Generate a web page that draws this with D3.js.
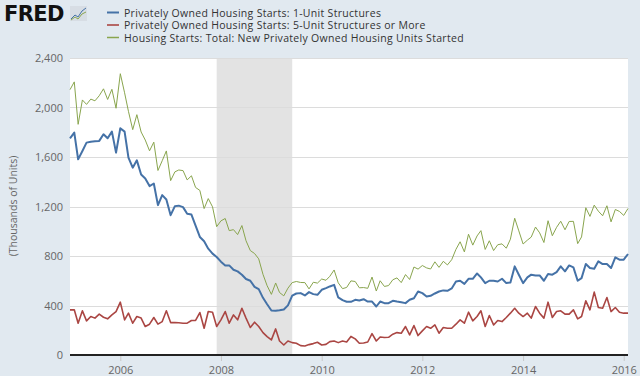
<!DOCTYPE html>
<html>
<head>
<meta charset="utf-8">
<script src="https://cdn.jsdelivr.net/npm/d3@7"></script>
<style>
  body { margin: 0; background: #e1e9f0; }
  svg { display: block; font-family: "Open Sans", sans-serif; }
</style>
</head>
<body>
<svg id="chart" width="640" height="376"></svg>
<script>
// monthly, Jan 2005 .. Feb 2016 (thousands of units, SAAR)
const firstMonth = new Date(2005, 0, 1);
const lastMonth = new Date(2016, 1, 1);

const oneUnit = [
    1750, 1797, 1581, 1649, 1716, 1724, 1727, 1730, 1784, 1751, 1805, 1635,
    1832, 1805, 1595, 1514, 1573, 1459, 1427, 1365, 1386, 1211, 1292, 1257,
    1130, 1203, 1207, 1195, 1141, 1135, 1046, 954, 919, 859, 819, 792,
    754, 724, 724, 689, 676, 649, 614, 600, 551, 532, 462, 410,
    360, 357, 361, 368, 401, 480, 497, 500, 481, 508, 492, 486,
    527, 540, 554, 567, 465, 443, 430, 430, 446, 440, 451, 432,
    432, 392, 432, 419, 419, 438, 432, 427, 419, 446, 459, 513,
    500, 473, 478, 497, 513, 522, 519, 538, 594, 600, 575, 616,
    616, 659, 627, 581, 600, 600, 594, 616, 581, 586, 716, 649,
    581, 627, 649, 643, 643, 600, 654, 649, 670, 716, 676, 724,
    708, 600, 621, 735, 703, 697, 757, 735, 735, 703, 789, 770,
    770, 816
];

const fivePlus = [
    365, 365, 257, 357, 276, 311, 298, 330, 305, 292, 324, 351,
    427, 284, 338, 257, 311, 298, 230, 249, 303, 249, 270, 357,
    262, 262, 260, 257, 257, 279, 279, 343, 216, 351, 346, 230,
    284, 351, 257, 324, 284, 378, 298, 222, 265, 230, 181, 149,
    122, 211, 113, 81, 113, 100, 95, 76, 73, 84, 92, 103,
    81, 86, 108, 113, 100, 113, 105, 150, 130, 95, 97, 105,
    173, 113, 146, 141, 143, 168, 181, 176, 230, 162, 238, 157,
    195, 230, 216, 243, 176, 222, 216, 216, 249, 284, 257, 346,
    276, 311, 357, 230, 319, 243, 279, 270, 303, 338, 378, 338,
    311, 338, 298, 392, 338, 298, 427, 303, 351, 357, 330, 330,
    365, 292, 311, 438, 365, 508, 384, 378, 465, 351, 384, 346,
    338, 338
];

const total = [
    2144, 2207, 1864, 2061, 2025, 2068, 2054, 2095, 2151, 2065, 2147, 1994,
    2273, 2119, 1969, 1821, 1942, 1802, 1737, 1650, 1720, 1491, 1570, 1649,
    1409, 1480, 1495, 1490, 1415, 1448, 1354, 1330, 1183, 1264, 1197, 1037,
    1084, 1103, 1005, 1013, 973, 1046, 923, 844, 820, 777, 652, 560,
    490, 582, 505, 478, 540, 585, 594, 586, 585, 534, 588, 581,
    614, 604, 636, 687, 583, 536, 546, 599, 594, 543, 545, 539,
    630, 517, 600, 554, 561, 608, 623, 585, 650, 610, 711, 694,
    723, 704, 695, 753, 708, 757, 728, 770, 854, 915, 833, 976,
    888, 962, 1005, 853, 923, 844, 891, 898, 863, 936, 1105, 1003,
    897, 928, 953, 1034, 987, 909, 1085, 964, 1032, 1081, 1012, 1079,
    1080, 900, 954, 1190, 1120, 1211, 1162, 1125, 1206, 1076, 1176, 1160,
    1128, 1184
];

const seriesNames = [
    "Privately Owned Housing Starts: 1-Unit Structures",
    "Privately Owned Housing Starts: 5-Unit Structures or More",
    "Housing Starts: Total: New Privately Owned Housing Units Started"
];
const seriesColors = ["#4572a7", "#aa4643", "#89a54e"];
const seriesWidths = [2, 1.6, 1];

const yTicks = [0, 400, 800, 1200, 1600, 2000, 2400];
const xTickYears = [2006, 2008, 2010, 2012, 2014, 2016];
const recession = [new Date(2007, 11, 1), new Date(2009, 5, 1)];

const svg = d3.select("#chart");
const plotLeft = 70, plotRight = 628, plotTop = 58, plotBottom = 355;

const months = d3.timeMonth.range(firstMonth, d3.timeMonth.offset(lastMonth, 1));

const x = d3.scaleTime()
    .domain([firstMonth, lastMonth])
    .range([plotLeft, plotRight]);
const y = d3.scaleLinear()
    .domain([0, 2400])
    .range([plotBottom, plotTop]);

// plot background
svg.append("rect")
    .attr("x", plotLeft).attr("y", plotTop)
    .attr("width", plotRight - plotLeft).attr("height", plotBottom - plotTop)
    .attr("fill", "#ffffff");

// recession band
svg.append("rect")
    .attr("x", x(recession[0])).attr("y", plotTop)
    .attr("width", x(recession[1]) - x(recession[0]))
    .attr("height", plotBottom - plotTop)
    .attr("fill", "#e3e3e3");

// gridlines
svg.append("g")
    .selectAll("line")
    .data(yTicks.filter(d => d > 0))
    .enter()
    .append("line")
    .attr("x1", plotLeft).attr("x2", plotRight)
    .attr("y1", d => Math.round(y(d)) + 0.5)
    .attr("y2", d => Math.round(y(d)) + 0.5)
    .attr("stroke", "#dcdcdc")
    .attr("stroke-width", 1);

// y labels
svg.append("g")
    .selectAll("text")
    .data(yTicks)
    .enter()
    .append("text")
    .attr("x", 63)
    .attr("y", d => y(d) + 4)
    .attr("text-anchor", "end")
    .attr("font-size", "11px")
    .attr("fill", "#666")
    .text(d => d3.format(",")(d));

svg.append("text")
    .attr("transform", "translate(17,206) rotate(-90)")
    .attr("text-anchor", "middle")
    .attr("font-size", "10.5px")
    .attr("fill", "#666")
    .text("(Thousands of Units)");

// x axis
const xAxis = d3.axisBottom(x)
    .tickValues(xTickYears.map(yr => new Date(yr, 0, 1)))
    .tickFormat(d3.timeFormat("%Y"))
    .tickSize(6)
    .tickSizeOuter(0);

const gx = svg.append("g")
    .attr("transform", `translate(0,${plotBottom})`)
    .call(xAxis);
gx.select(".domain").remove();
gx.selectAll(".tick line").attr("stroke", "#c8c8c8");
gx.selectAll(".tick text")
    .attr("font-family", "Open Sans, sans-serif")
    .attr("font-size", "11px")
    .attr("fill", "#666")
    .attr("dy", "0.9em");

// lines
const line = d3.line()
    .x((d, i) => x(months[i]))
    .y(d => y(d));

const allSeries = [total, fivePlus, oneUnit];
const order = [2, 1, 0];
allSeries.forEach((vals, k) => {
    const idx = order[k];
    svg.append("path")
        .datum(vals)
        .attr("d", line)
        .attr("fill", "none")
        .attr("stroke", seriesColors[idx])
        .attr("stroke-width", seriesWidths[idx])
        .attr("stroke-linejoin", "round");
});

// baseline
svg.append("line")
    .attr("x1", plotLeft).attr("x2", plotRight)
    .attr("y1", plotBottom).attr("y2", plotBottom)
    .attr("stroke", "#222")
    .attr("stroke-width", 2);

// FRED logo
svg.append("text")
    .attr("x", 4)
    .attr("y", 21)
    .attr("font-family", "DejaVu Sans, sans-serif")
    .attr("font-weight", "bold")
    .attr("font-size", "21px")
    .attr("letter-spacing", "-0.6px")
    .attr("fill", "#111")
    .text("FRED");

const icon = svg.append("g").attr("transform", "translate(70,6)");
icon.append("rect")
    .attr("width", 17).attr("height", 15)
    .attr("fill", "#d7dde4");
icon.append("polyline")
    .attr("points", "1,13 5,9 8,11 12,5 16,2")
    .attr("fill", "none").attr("stroke", "#4572a7").attr("stroke-width", 1);
icon.append("polyline")
    .attr("points", "1,14 5,11 8,13 12,8 16,6")
    .attr("fill", "none").attr("stroke", "#89a54e").attr("stroke-width", 1);

// legend
const legend = svg.append("g")
    .selectAll("g")
    .data(seriesNames)
    .enter()
    .append("g")
    .attr("transform", (d, i) => `translate(107,${12.5 + i * 12.5})`);

legend.append("line")
    .attr("x1", 0).attr("x2", 12)
    .attr("stroke", (d, i) => seriesColors[i])
    .attr("stroke-width", (d, i) => Math.max(1.5, seriesWidths[i]));

legend.append("text")
    .attr("x", 17)
    .attr("y", 4)
    .attr("font-size", "10.5px")
    .attr("letter-spacing", "0.3px")
    .attr("fill", "#333")
    .text(d => d);
</script>
</body>
</html>
